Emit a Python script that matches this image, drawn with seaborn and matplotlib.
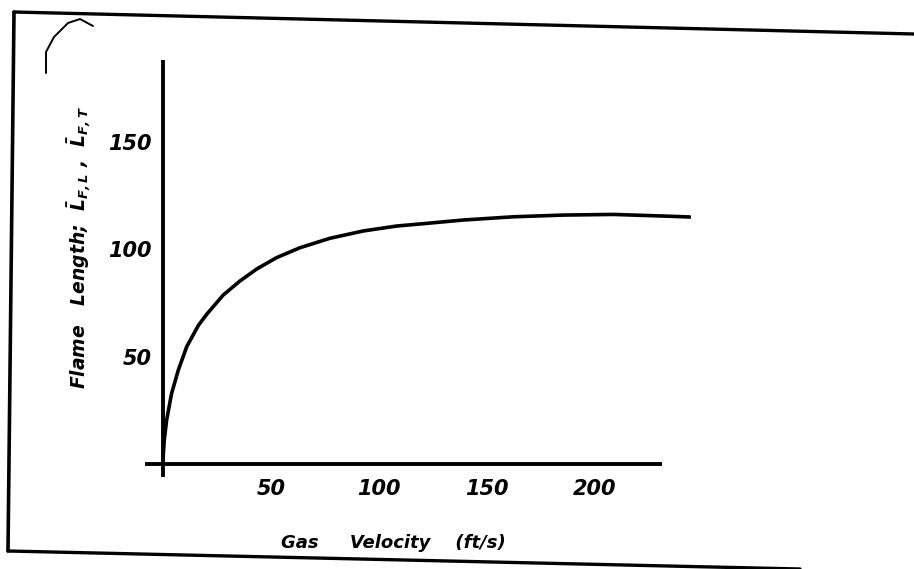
import numpy as np
import pandas as pd
import seaborn as sns
import matplotlib.pyplot as plt
from matplotlib.lines import Line2D

# curve
velocity = [0, 0.6, 1.7, 4.0, 7.1, 11, 16.4, 20.2, 27.9, 35.6, 43.4, 52.6, 63.4,
            77.3, 92.7, 108.2, 122.8, 139, 162.2, 185.3, 208.5, 233.2, 244]
flame_len = [2, 11.2, 20.5, 32.9, 43.7, 54.6, 64.5, 69.6, 78.6, 85.1, 90.7, 96,
             100.6, 105, 108.4, 110.7, 112, 113.5, 115, 115.8, 116.1, 115.3, 114.9]
x_ticks = [50, 100, 150, 200]
y_ticks = [50, 100, 150]

sns.set_style("white")
plt.rcParams["font.family"] = ["DejaVu Sans"]
plt.rcParams["mathtext.fontset"] = "custom"
plt.rcParams["mathtext.rm"] = "DejaVu Sans:bold:italic"
plt.rcParams["mathtext.it"] = "DejaVu Sans:bold:italic"
plt.rcParams["mathtext.bf"] = "DejaVu Sans:bold:italic"
for k in ["text.color", "axes.labelcolor", "xtick.color", "ytick.color"]:
    plt.rcParams[k] = "black"

W, H = 914, 569
fig = plt.figure(figsize=(W / 100, H / 100), dpi=100)
# axes box in pixels: left 147, right 691, top 62, bottom 475
ax = fig.add_axes([147 / W, 1 - 475 / H, 544 / W, 413 / H])

df = pd.DataFrame({"v": velocity, "L": flame_len})
sns.lineplot(data=df, x="v", y="L", ax=ax, color="black", lw=2.6)

ax.set_xlim(-7.4, 244.5)
ax.set_ylim(-5.1, 187)
for s in ["top", "right"]:
    ax.spines[s].set_visible(False)
for s in ["left", "bottom"]:
    ax.spines[s].set_position(("data", 0))
    ax.spines[s].set_linewidth(2.8)
    ax.spines[s].set_color("black")
ax.spines["bottom"].set_bounds(-7.4, 230)

ax.set_xticks(x_ticks)
ax.set_yticks(y_ticks)
ax.tick_params(direction="in", length=6, width=2.2, labelsize=15)
ax.tick_params(axis="x", pad=11)
ax.tick_params(axis="y", pad=8)
for lab in ax.get_xticklabels() + ax.get_yticklabels():
    lab.set_fontweight("bold")
    lab.set_fontstyle("italic")

ax.set_xlabel("Gas     Velocity    (ft/s)", fontsize=13, fontweight="bold",
              fontstyle="italic")
ax.xaxis.set_label_coords(0.452, -0.143)
ax.set_ylabel(r"Flame   Length;  $\bar{L}_{F,L}$ ,  $\bar{L}_{F,T}$", fontsize=13.5,
              fontweight="bold", fontstyle="italic", va="center")
ax.yaxis.set_label_coords(-0.124, 0.55)


def px(points):
    xs = [p[0] / W for p in points]
    ys = [1 - p[1] / H for p in points]
    return xs, ys


# page border and pen mark from the scan
for pts, lw in [([(14, 12), (914, 34)], 2.4),
                ([(14, 12), (8, 551)], 2.6),
                ([(8, 551), (800, 569)], 2.4),
                ([(46, 73), (46, 52), (54, 37), (68, 23), (80, 19), (93, 26)], 1.4)]:
    xs, ys = px(pts)
    fig.add_artist(Line2D(xs, ys, transform=fig.transFigure, color="black",
                          lw=lw, solid_capstyle="round"))

fig.savefig("out.png", dpi=100)
